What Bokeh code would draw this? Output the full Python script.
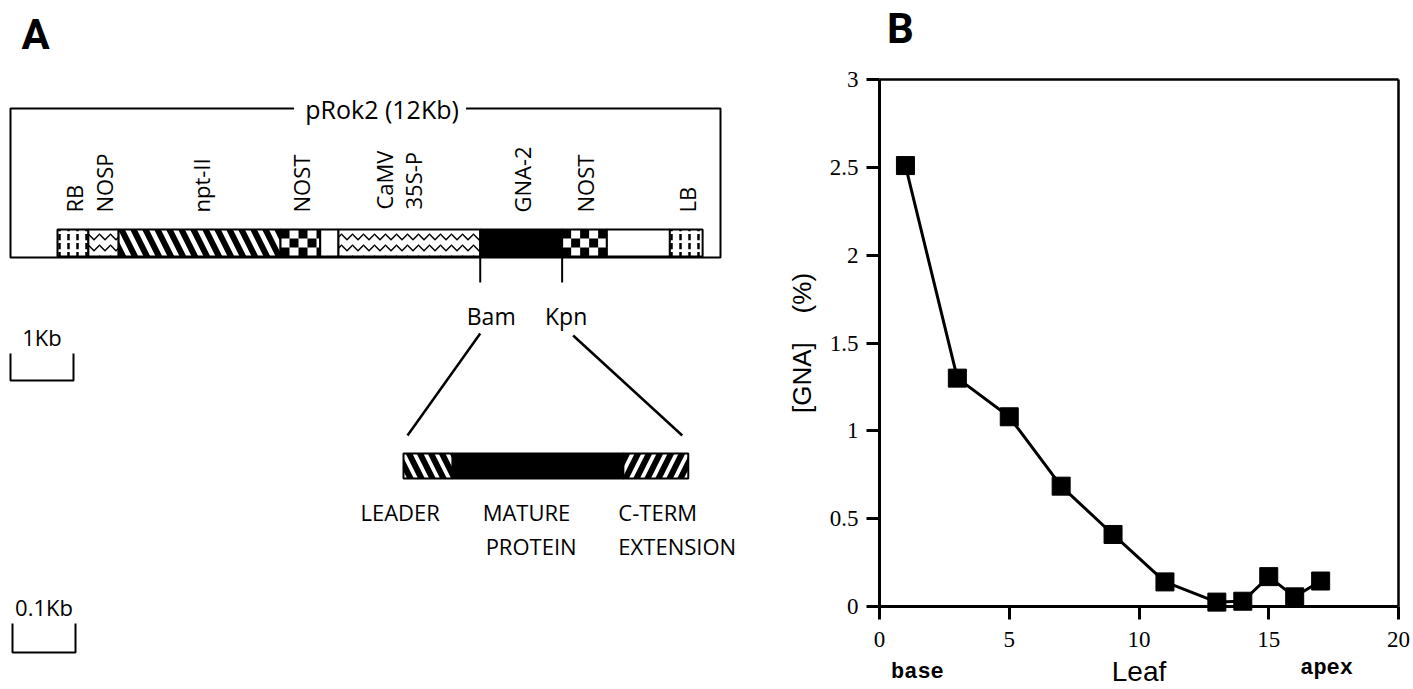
import math
import numpy as np
from bokeh.plotting import figure
from bokeh.models import Range1d, LinearAxis, FixedTicker
from bokeh.embed import file_html
from bokeh.resources import INLINE
from bokeh.core.properties import value

# ---------------- Panel A data ----------------
construct_names = ["RB", "NOSP", "npt-II", "NOST", "", "CaMV\n35S-P", "GNA-2", "NOST", "", "LB"]
construct_kb = [0.49, 0.48, 2.57, 0.63, 0.29, 2.25, 1.30, 0.71, 1.00, 0.52]
plasmid_label = "pRok2 (12Kb)"
site_labels = ["Bam", "Kpn"]
detail_line1 = ["LEADER", "MATURE", "C-TERM"]
detail_line2 = ["", "PROTEIN", "EXTENSION"]
detail_kb = [0.078, 0.271, 0.103]
scale_labels = ["1Kb", "0.1Kb"]
scale_kb = [1.0, 0.1]
panel_letters = ["A", "B"]

# ---------------- Panel B data ----------------
leaf = [1, 3, 5, 7, 9, 11, 13, 14, 15, 16, 17]
gna_pct = [2.51, 1.30, 1.08, 0.685, 0.41, 0.14, 0.025, 0.03, 0.17, 0.055, 0.145]
x_ticks = [0, 5, 10, 15, 20]
y_ticks = [0, 0.5, 1, 1.5, 2, 2.5, 3]
y_tick_labels = ["0", "0.5", "1", "1.5", "2", "2.5", "3"]
x_title = "Leaf"
y_title = "[GNA]\u00a0\u00a0\u00a0\u00a0(%)"
x_end_labels = ["base", "apex"]

# ---------------- styles ----------------
SANS = "Open Sans"
SERIF = "Liberation Serif"
MONO = "Liberation Mono"
COND = "Roboto"
seg_style = ["dots", "wave", "diag", "checker", "blank", "wave", "solid", "checker", "blank", "dots"]
detail_style = ["diag", "solid", "rdiag"]

W, H = 1412, 688
p = figure(width=W, height=H, x_range=Range1d(0, W), y_range=Range1d(H, 0),
           output_backend="svg", toolbar_location=None, x_axis_type=None, y_axis_type=None,
           min_border=0, outline_line_color=None)

# ================= Panel A (diagram, pixel layout) =================
KB_PX = 63.0        # map scale: px per kb
MAP_X0 = 57.0
BAR_TOP, BAR_BOT = 229.0, 256.0
BASE_Y = 257.0

edges = MAP_X0 + KB_PX * np.concatenate([[0.0], np.cumsum(construct_kb)])


def draw_segment(fig, l, r, t, b, style, scale=24, weight=6):
    common = dict(line_color="black", line_width=2)
    if style == "solid":
        fig.quad(left=[l], right=[r], top=[t], bottom=[b], fill_color="black", **common)
    elif style == "blank":
        fig.quad(left=[l], right=[r], top=[t], bottom=[b], fill_color="white", **common)
    elif style == "diag":
        fig.quad(left=[l], right=[r], top=[t], bottom=[b], fill_color="white",
                 hatch_pattern="\\", hatch_scale=scale, hatch_weight=weight, hatch_color="black", **common)
    elif style == "rdiag":
        fig.quad(left=[l], right=[r], top=[t], bottom=[b], fill_color="white",
                 hatch_pattern="/", hatch_scale=scale, hatch_weight=weight, hatch_color="black", **common)
    elif style == "wave":
        fig.quad(left=[l], right=[r], top=[t], bottom=[b], fill_color="white",
                 hatch_pattern="v", hatch_scale=11, hatch_weight=1.5, hatch_color="black", **common)
    elif style == "dots":
        fig.quad(left=[l], right=[r], top=[t], bottom=[b], fill_color="white",
                 hatch_pattern=":", hatch_scale=9, hatch_weight=2.5, hatch_color="black", **common)
    elif style == "checker":
        fig.quad(left=[l], right=[r], top=[t], bottom=[b], fill_color="white", **common)
        sq = (b - t) / 3.0
        ncol = int(math.ceil((r - l) / sq))
        L, R, T, B = [], [], [], []
        for ri in range(3):
            for ci in range(ncol):
                if (ri + ci) % 2 == 0:
                    L.append(l + ci * sq)
                    R.append(min(l + (ci + 1) * sq, r))
                    T.append(t + ri * sq)
                    B.append(t + (ri + 1) * sq)
        fig.quad(left=L, right=R, top=T, bottom=B, fill_color="black", line_color=None)


for i, st in enumerate(seg_style):
    draw_segment(p, edges[i], edges[i + 1], BAR_TOP, BAR_BOT, st)

# plasmid box
BOX_L, BOX_R, BOX_T = 10.0, 720.0, 108.0
txt_cx = (edges[0] + edges[-1]) / 2.0
gap = 86.0
p.line([txt_cx - gap, BOX_L, BOX_L, BOX_R, BOX_R, txt_cx + gap],
       [BOX_T, BOX_T, BASE_Y, BASE_Y, BOX_T, BOX_T], line_color="black", line_width=2)
p.text(x=[txt_cx + 2], y=[BOX_T], text=[plasmid_label], text_font=value(SANS),
       text_font_size="25px", text_align="center", text_baseline="middle", text_color="black")

# vertical element labels
lx, ly, lt = [], [], []
for i, name in enumerate(construct_names):
    if not name:
        continue
    c = (edges[i] + edges[i + 1]) / 2.0
    parts = name.split("\n")
    if len(parts) == 1:
        lx.append(c + 1); ly.append(212.0); lt.append(parts[0])
    else:
        lx.append(c - 25); ly.append(209.0); lt.append(parts[0])
        lx.append(c + 4); ly.append(209.0); lt.append(parts[1])
p.text(x=lx, y=ly, text=lt, angle=math.pi / 2, text_font=value(SANS), text_font_size="22px",
       text_align="left", text_baseline="middle", text_color="black")

# restriction sites
g_l, g_r = edges[6], edges[7]
p.segment(x0=[g_l, g_r], y0=[BASE_Y, BASE_Y], x1=[g_l, g_r], y1=[282, 282], line_color="black", line_width=2)
p.text(x=[g_l + 11, g_r + 4], y=[315, 315], text=site_labels, text_font=value(SANS), text_font_size="23px",
       text_align="center", text_baseline="middle", text_color="black")

# detail bar
DKB_PX = 630.0
D_X0 = 403.0
D_TOP, D_BOT = 453.0, 478.0
dedges = D_X0 + DKB_PX * np.concatenate([[0.0], np.cumsum(detail_kb)])
for i, st in enumerate(detail_style):
    draw_segment(p, dedges[i], dedges[i + 1], D_TOP, D_BOT, st, scale=22, weight=6)

p.segment(x0=[g_l, g_r + 11], y0=[333, 335], x1=[dedges[0] + 4, dedges[-1] - 6], y1=[435, 435],
          line_color="black", line_width=2.5)

dlx = [dedges[0] - 43, dedges[1] + 30, dedges[2] - 5]
p.text(x=dlx, y=[511] * 3, text=detail_line1, text_font=value(SANS), text_font_size="22px",
       text_align="left", text_baseline="middle", text_color="black")
p.text(x=[dlx[0], dlx[1] + 3, dlx[2]], y=[545] * 3, text=detail_line2, text_font=value(SANS),
       text_font_size="22px", text_align="left", text_baseline="middle", text_color="black")

# scale bars
sb_x = [10.0, 12.0]
sb_top = [353.0, 623.0]
sb_bot = [380.0, 652.0]
sb_px = [KB_PX * scale_kb[0], DKB_PX * scale_kb[1]]
for i in range(2):
    x0 = sb_x[i]; x1 = x0 + sb_px[i]
    p.line([x0, x0, x1, x1], [sb_top[i], sb_bot[i], sb_bot[i], sb_top[i]], line_color="black", line_width=2)
    p.text(x=[(x0 + x1) / 2.0], y=[sb_top[i] - 17], text=[scale_labels[i]], text_font=value(SANS),
           text_font_size="22px", text_align="center", text_baseline="middle", text_color="black")

p.text(x=[35], y=[34], text=[panel_letters[0]], text_font=value(COND), text_font_size="42px",
       text_font_style="bold", text_align="center", text_baseline="middle", text_color="black")

# ================= Panel B (line chart on its own scales) =================
B_LEFT, B_RIGHT, B_TOP, B_BOT = 879.0, 1398.0, 79.0, 606.0
x_lo, x_hi = x_ticks[0], x_ticks[-1]
y_lo, y_hi = y_ticks[0], y_ticks[-1]
sx = (B_RIGHT - B_LEFT) / (x_hi - x_lo)
sy = (B_BOT - B_TOP) / (y_hi - y_lo)
p.extra_x_ranges = {"bx": Range1d(x_lo - B_LEFT / sx, x_lo + (W - B_LEFT) / sx)}
p.extra_y_ranges = {"by": Range1d(y_lo - (H - B_BOT) / sy, y_lo + B_BOT / sy)}


def b_axis(side, loc, bounds, ticks, width):
    ax = LinearAxis(x_range_name="bx", y_range_name="by", fixed_location=loc, bounds=bounds,
                    ticker=FixedTicker(ticks=ticks))
    ax.axis_line_width = width
    ax.axis_line_color = "black"
    ax.major_tick_line_width = 3
    ax.major_tick_line_color = "black"
    ax.major_tick_out = 13
    ax.major_tick_in = 0
    ax.minor_tick_line_color = None
    ax.major_label_text_font = SERIF
    ax.major_label_text_font_size = "23px"
    ax.major_label_text_color = "black"
    p.add_layout(ax, side)
    return ax


xa = b_axis("below", y_lo, (x_lo, x_hi), x_ticks, 3)
xa.major_label_standoff = 12
ya = b_axis("left", x_lo, (y_lo, y_hi), y_ticks, 3)
ya.major_label_standoff = 8
ya.major_label_overrides = {t: l for t, l in zip(y_ticks, y_tick_labels)}
ya.axis_label = y_title
ya.axis_label_text_font = "Liberation Sans"
ya.axis_label_text_font_size = "26px"
ya.axis_label_text_font_style = "normal"
ya.axis_label_text_color = "black"
ya.axis_label_standoff = 10
ta = b_axis("above", y_hi, (x_lo, x_hi), [], 2.5)
ta.major_label_text_color = None
ra = b_axis("right", x_hi, (y_lo, y_hi), [], 2.5)
ra.major_label_text_color = None

p.line(leaf, gna_pct, line_color="black", line_width=3, x_range_name="bx", y_range_name="by")
p.scatter(leaf, gna_pct, marker="square", size=18, fill_color="black", line_color="black",
          x_range_name="bx", y_range_name="by")

p.text(x=[1.46, 17.23], y=[-0.376, -0.353], text=x_end_labels, text_font=value(MONO), text_font_size="22px",
       text_font_style="bold", text_align="center", text_baseline="middle", text_color="black",
       x_range_name="bx", y_range_name="by")
p.text(x=[(x_lo + x_hi) / 2.0], y=[-0.372], text=[x_title], text_font=value("Liberation Sans"),
       text_font_size="28px", text_align="center", text_baseline="middle", text_color="black",
       x_range_name="bx", y_range_name="by")
p.text(x=[0.81], y=[3.29], text=[panel_letters[1]], text_font=value(COND), text_font_size="42px",
       text_font_style="bold", text_align="center", text_baseline="middle", text_color="black",
       x_range_name="bx", y_range_name="by")

open("out.html", "w").write(file_html(p, INLINE))
